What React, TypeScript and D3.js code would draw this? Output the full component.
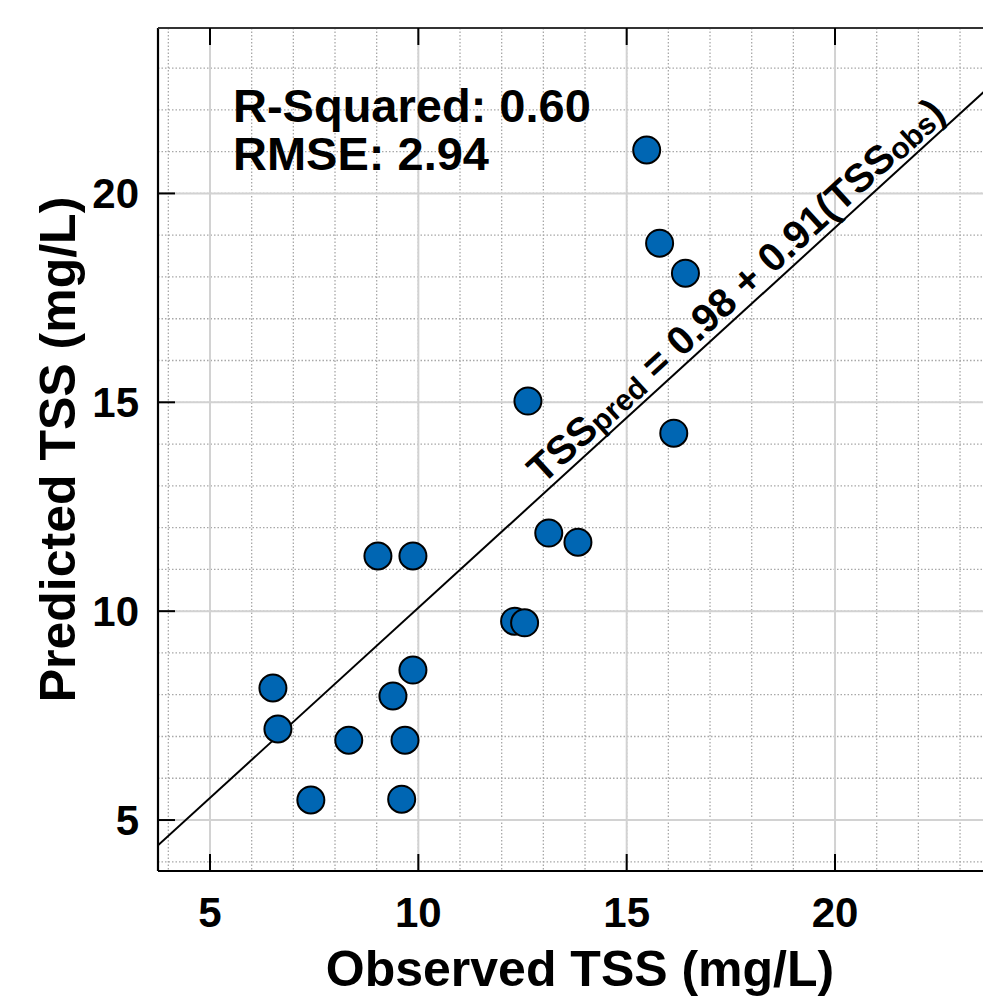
import React from "react";
import * as d3 from "d3";

const observed = [15.48, 15.79, 16.41, 12.63, 16.13, 13.13, 13.83, 9.03, 9.87, 12.31, 12.55, 6.51, 9.87, 9.39, 6.63, 8.33, 9.68, 7.42, 9.6];
const predicted = [21.04, 18.81, 18.09, 15.03, 14.26, 11.87, 11.65, 11.32, 11.32, 9.76, 9.72, 8.16, 8.59, 7.97, 7.18, 6.91, 6.91, 5.48, 5.5];
const majorTicks = [5, 10, 15, 20];
const minorTicks = d3.range(4, 25);
const fitIntercept = 0.98;
const fitSlope = 0.91;
const statLines = ["R-Squared: 0.60", "RMSE: 2.94"];
const xTitle = "Observed TSS (mg/L)";
const yTitle = "Predicted TSS (mg/L)";

const W = 983;
const H = 997;
const FONT = "'Liberation Sans', Arial, Helvetica, sans-serif";

export default function App() {
  const x = d3.scaleLinear().domain([3.752, 24]).range([158, 1001.7]);
  const y = d3.scaleLinear().domain([3.78, 23.96]).range([871, 28]);
  const [x0, x1] = x.range();
  const [yb, yt] = y.range();
  const fitX = [x.domain()[0], x.domain()[1]];
  const line = d3.line<number>().x((d) => x(d)).y((d) => y(fitIntercept + fitSlope * d));

  const p1 = [x(4), y(fitIntercept + fitSlope * 4)];
  const p2 = [x(20), y(fitIntercept + fitSlope * 20)];
  const ang = (Math.atan2(p2[1] - p1[1], p2[0] - p1[0]) * 180) / Math.PI;
  const th = (ang * Math.PI) / 180;
  const lx = 17.95;
  const off = 7;
  const cx = x(lx) + Math.sin(th) * off;
  const cy = y(fitIntercept + fitSlope * lx) - Math.cos(th) * off;

  return (
    <svg width={W} height={H} style={{ position: "fixed", left: 0, top: 0, background: "#fff" }} fontFamily={FONT}>
      <defs>
        <clipPath id="plot">
          <rect x={x0} y={yt} width={x1 - x0} height={yb - yt} />
        </clipPath>
      </defs>
      <rect x={0} y={0} width={W} height={H} fill="#fff" />
      <g clipPath="url(#plot)">
        {minorTicks.map((t) => (
          <line key={"mx" + t} x1={x(t)} x2={x(t)} y1={yt} y2={yb} stroke="#a8a8a8" strokeWidth={1.3} strokeDasharray="1.5,2" />
        ))}
        {minorTicks.map((t) => (
          <line key={"my" + t} x1={x0} x2={x1} y1={y(t)} y2={y(t)} stroke="#a8a8a8" strokeWidth={1.3} strokeDasharray="1.5,2" />
        ))}
        {majorTicks.map((t) => (
          <line key={"Mx" + t} x1={x(t)} x2={x(t)} y1={yt} y2={yb} stroke="#d2d2d2" strokeWidth={2} />
        ))}
        {majorTicks.map((t) => (
          <line key={"My" + t} x1={x0} x2={x1} y1={y(t)} y2={y(t)} stroke="#d2d2d2" strokeWidth={2} />
        ))}
        <path d={line(fitX) || ""} stroke="#000" strokeWidth={2} fill="none" />
        {observed.map((o, i) => (
          <circle key={i} cx={x(o)} cy={y(predicted[i])} r={13.5} fill="#0066b3" stroke="#000" strokeWidth={2} />
        ))}
      </g>
      <line x1={x0} x2={x0} y1={yt} y2={yb} stroke="#000" strokeWidth={2.2} />
      <line x1={x0} x2={x1} y1={yb} y2={yb} stroke="#000" strokeWidth={2.2} />
      <line x1={x0} x2={x1} y1={yt} y2={yt} stroke="#333" strokeWidth={2} />
      {majorTicks.map((t) => (
        <g key={"t" + t}>
          <line x1={x(t)} x2={x(t)} y1={yb} y2={yb - 17} stroke="#000" strokeWidth={2} />
          <line x1={x(t)} x2={x(t)} y1={yt} y2={yt + 17} stroke="#000" strokeWidth={2} />
          <line x1={x0} x2={x0 + 17} y1={y(t)} y2={y(t)} stroke="#000" strokeWidth={2} />
          <text x={x(t)} y={927} textAnchor="middle" fontSize={42} fontWeight="bold">{t}</text>
          <text x={139} y={y(t) + 15} textAnchor="end" fontSize={42} fontWeight="bold">{t}</text>
        </g>
      ))}
      {statLines.map((s, i) => (
        <text key={s} x={233} y={122 + i * 48} fontSize={47} fontWeight="bold">{s}</text>
      ))}
      <text transform={`translate(${cx},${cy}) rotate(${ang})`} textAnchor="middle" fontSize={40} fontWeight="bold">
        TSS<tspan fontSize={30} dy={2}>pred</tspan>
        <tspan dy={-2}> = 0.98 + 0.91(TSS</tspan>
        <tspan fontSize={30} dy={2}>obs</tspan>
        <tspan dy={-2}>)</tspan>
      </text>
      <text x={580} y={986} textAnchor="middle" fontSize={50} fontWeight="bold">{xTitle}</text>
      <text transform={`translate(75,${(yt + yb) / 2}) rotate(-90)`} textAnchor="middle" fontSize={50} fontWeight="bold">{yTitle}</text>
    </svg>
  );
}
